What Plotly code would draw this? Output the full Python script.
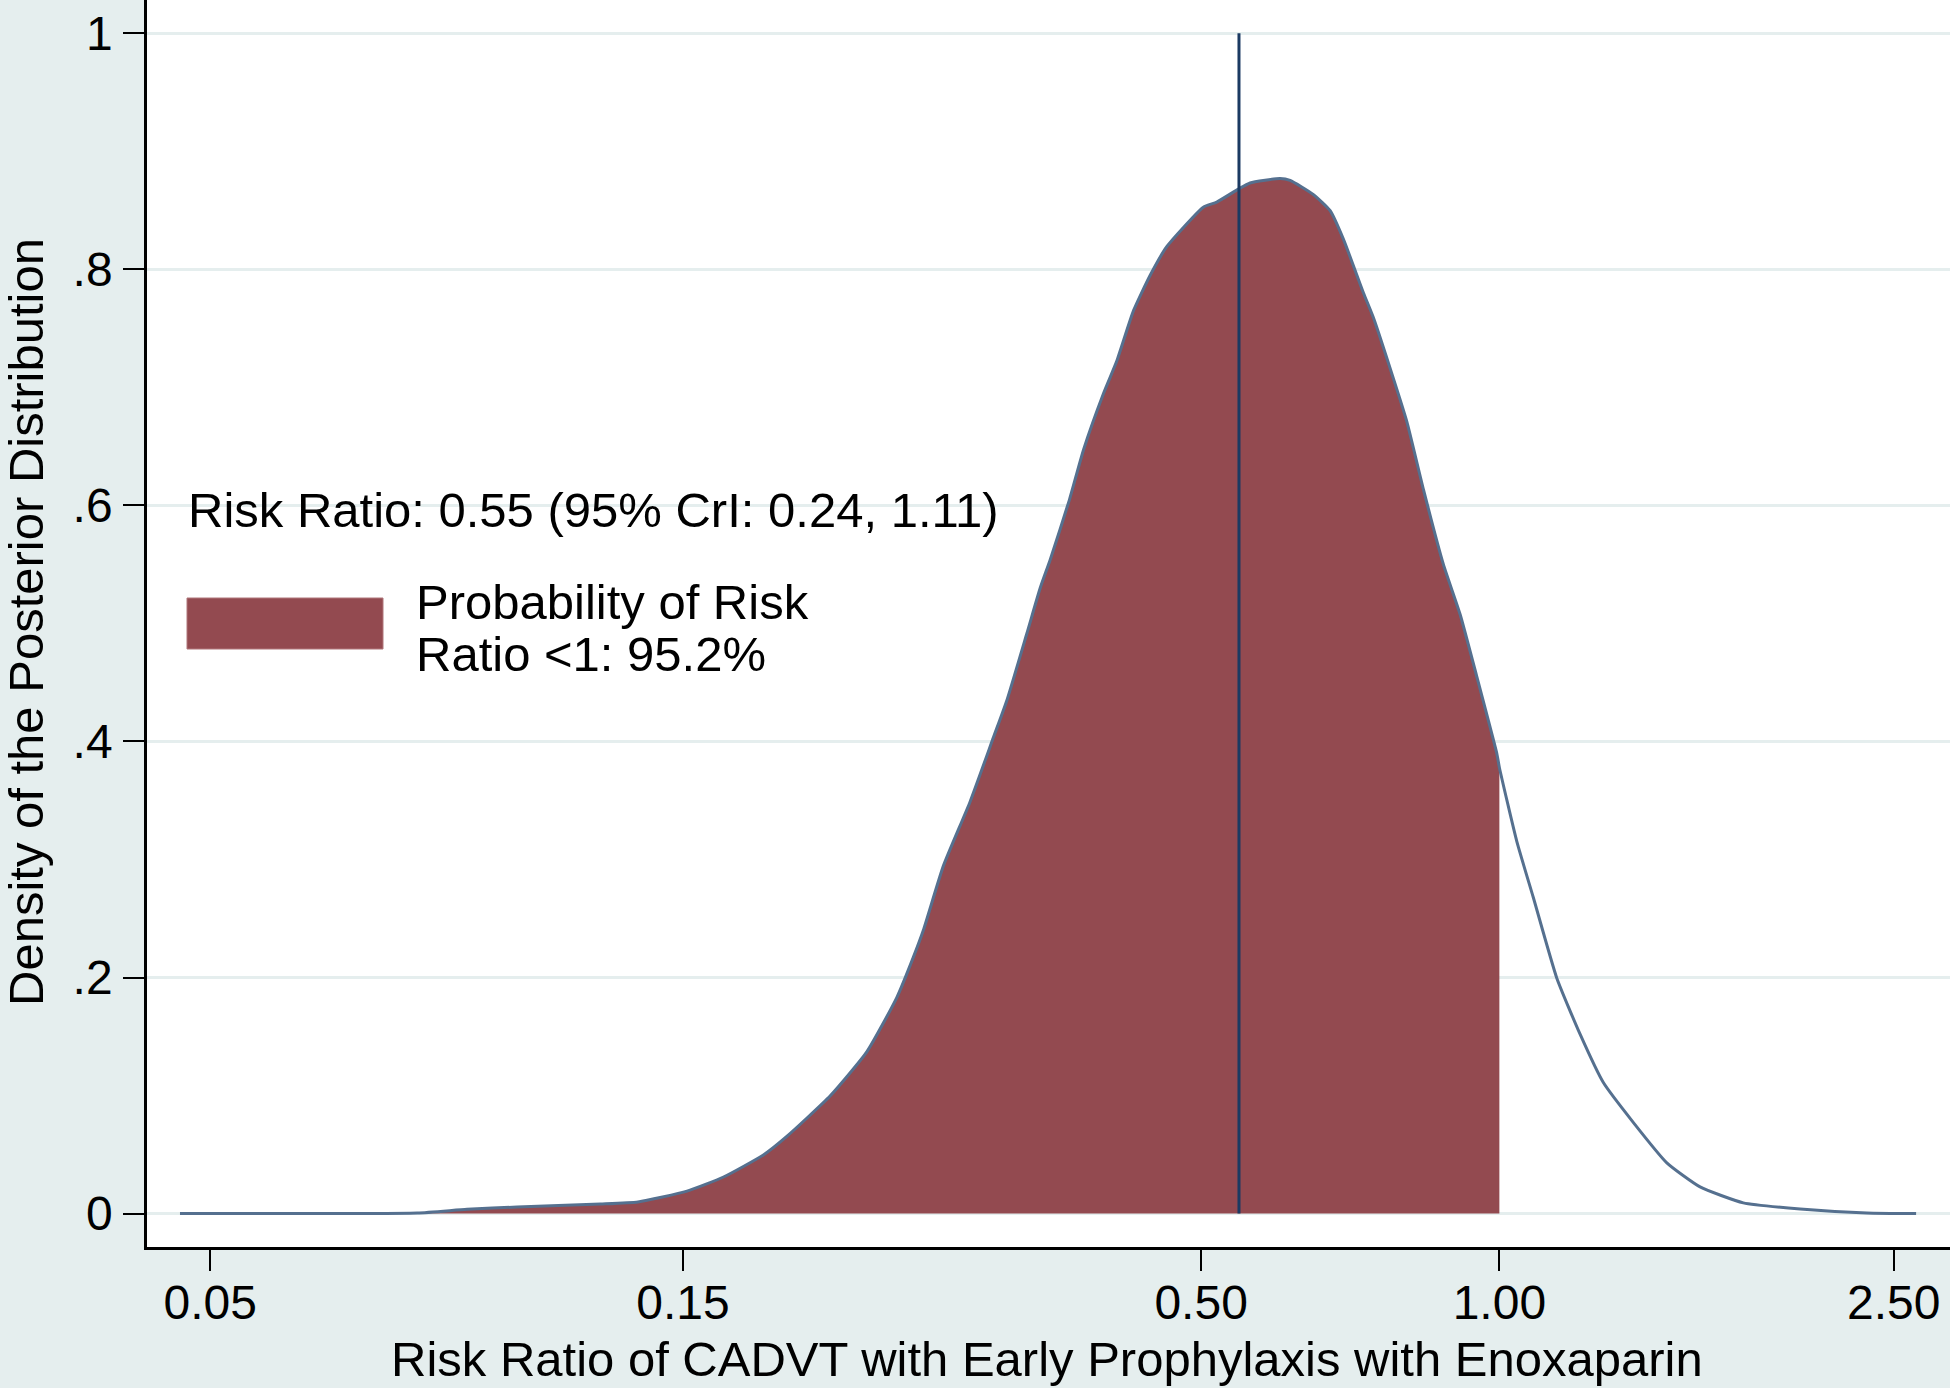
import plotly.graph_objects as go

# ---- data ----
# posterior density curve (risk ratio, density)
rr = [0.0466, 0.0616, 0.0809, 0.0908, 0.1020, 0.1238, 0.1351, 0.1514, 0.1648,
      0.1808, 0.1909, 0.2112, 0.2299, 0.2465, 0.2562, 0.2622, 0.2747, 0.2923,
      0.3086, 0.3184, 0.3335, 0.3440, 0.3521, 0.3681, 0.3804, 0.3986, 0.4111,
      0.4273, 0.4442, 0.4618, 0.5026, 0.5185, 0.5452, 0.5602, 0.6007, 0.6149,
      0.6492, 0.6749, 0.6961, 0.7292, 0.7463, 0.7818, 0.8065, 0.8382, 0.8780,
      0.9129, 0.9489, 0.9940, 1.0000, 1.0413, 1.0821, 1.1426, 1.2063, 1.2733,
      1.3655, 1.4757, 1.5943, 1.7629, 2.0118, 2.3490, 2.6339]
density = [0.0, 0.0, 0.0005, 0.0036, 0.0056, 0.0081, 0.0099, 0.0190, 0.0310,
           0.0497, 0.0654, 0.0998, 0.1370, 0.1830, 0.2173, 0.2400, 0.2946, 0.3490,
           0.4035, 0.4350, 0.4915, 0.5300, 0.5540, 0.6045, 0.6470, 0.6950, 0.7225,
           0.7650, 0.7950, 0.8194, 0.8527, 0.8570, 0.8680, 0.8732, 0.8769, 0.8753,
           0.8633, 0.8497, 0.8254, 0.7800, 0.7590, 0.7074, 0.6710, 0.6136, 0.5500,
           0.5076, 0.4550, 0.3900, 0.3780, 0.3154, 0.2678, 0.1997, 0.1520, 0.1110,
           0.0771, 0.0430, 0.0226, 0.0091, 0.0039, 0.0005, 0.0]

median_rr = 0.546
threshold = 1.0

x_tickvals = [0.05, 0.15, 0.50, 1.00, 2.50]
x_ticktext = ["0.05", "0.15", "0.50", "1.00", "2.50"]
y_tickvals = [0, 0.2, 0.4, 0.6, 0.8, 1.0]
y_ticktext = ["0", ".2", ".4", ".6", ".8", "1"]

summary_text = "Risk Ratio: 0.55 (95% CrI: 0.24, 1.11)"
legend_lines = ["Probability of Risk", "Ratio <1: 95.2%"]
x_title = "Risk Ratio of CADVT with Early Prophylaxis with Enoxaparin"
y_title = "Density of the Posterior Distribution"

# ---- styling ----
FONT = "Liberation Sans, Arial, Helvetica, sans-serif"
BG = "#E5EEEE"
FILL = "#934A50"
CURVE = "#55708F"
VLINE = "#1B3A62"
FS_TICK = 48
FS_TITLE = 49
FS_TEXT = 49

W, H = 1950, 1388
ML, MR, MT, MB = 147, 0, 0, 141
PW, PH = W - ML - MR, H - MT - MB

def px_x(p):
    return (p - ML) / PW

def px_y(p):
    return (H - MB - p) / PH

fill_x = [x for x in rr if x <= threshold]
fill_y = [d for x, d in zip(rr, density) if x <= threshold]

fig = go.Figure()
fig.add_trace(go.Scatter(x=fill_x, y=fill_y, mode="lines", fill="tozeroy",
                         fillcolor=FILL, line=dict(width=0, color=FILL, shape="spline", smoothing=0.5),
                         showlegend=False, hoverinfo="skip"))
fig.add_trace(go.Scatter(x=rr, y=density, mode="lines",
                         line=dict(width=3, color=CURVE, shape="spline", smoothing=0.5),
                         showlegend=False))
fig.add_trace(go.Scatter(x=[median_rr, median_rr], y=[0, 1], mode="lines",
                         line=dict(width=3, color=VLINE), showlegend=False))

# legend key (rectangle) and texts
fig.add_shape(type="rect", xref="paper", yref="paper",
              x0=px_x(187), x1=px_x(383), y0=px_y(649), y1=px_y(598),
              fillcolor=FILL, line=dict(width=1, color="#B0767B"), layer="above")

ann = [
    dict(text=summary_text, x=px_x(186), y=px_y(510), xanchor="left", yanchor="middle", size=FS_TEXT),
    dict(text=legend_lines[0], x=px_x(414), y=px_y(602), xanchor="left", yanchor="middle", size=FS_TEXT),
    dict(text=legend_lines[1], x=px_x(414), y=px_y(654), xanchor="left", yanchor="middle", size=FS_TEXT),
    dict(text=x_title, x=px_x(1047), y=px_y(1359), xanchor="center", yanchor="middle", size=FS_TITLE),
    dict(text=y_title, x=px_x(26), y=px_y(622), xanchor="center", yanchor="middle", textangle=-90, size=FS_TITLE),
]
for a in ann:
    size = a.pop("size")
    fig.add_annotation(xref="paper", yref="paper", showarrow=False,
                       font=dict(family=FONT, size=size, color="black"), **a)

fig.update_layout(
    width=W, height=H,
    margin=dict(l=ML, r=MR, t=MT, b=MB, pad=0),
    paper_bgcolor=BG, plot_bgcolor="white",
    font=dict(family=FONT, size=FS_TICK, color="black"),
    showlegend=False,
)
fig.update_xaxes(type="log", range=[-1.3649, 0.4548],
                 tickvals=x_tickvals, ticktext=x_ticktext,
                 showgrid=False, zeroline=False,
                 showline=True, linecolor="black", linewidth=2.5,
                 ticks="outside", ticklen=21, tickwidth=2, tickcolor="black",
                 ticklabelstandoff=-9,
                 tickfont=dict(family=FONT, size=FS_TICK, color="black"))
fig.update_yaxes(range=[-0.0283, 1.0282],
                 tickvals=y_tickvals, ticktext=y_ticktext,
                 showgrid=True, gridcolor=BG, gridwidth=3, zeroline=False,
                 showline=True, linecolor="black", linewidth=2.5,
                 ticks="outside", ticklen=21, tickwidth=2, tickcolor="black",
                 ticklabelstandoff=1,
                 tickfont=dict(family=FONT, size=FS_TICK, color="black"))

fig.write_html("out.html", config={"displayModeBar": False},
               post_script="document.body.style.margin='0';document.body.style.padding='0';")
